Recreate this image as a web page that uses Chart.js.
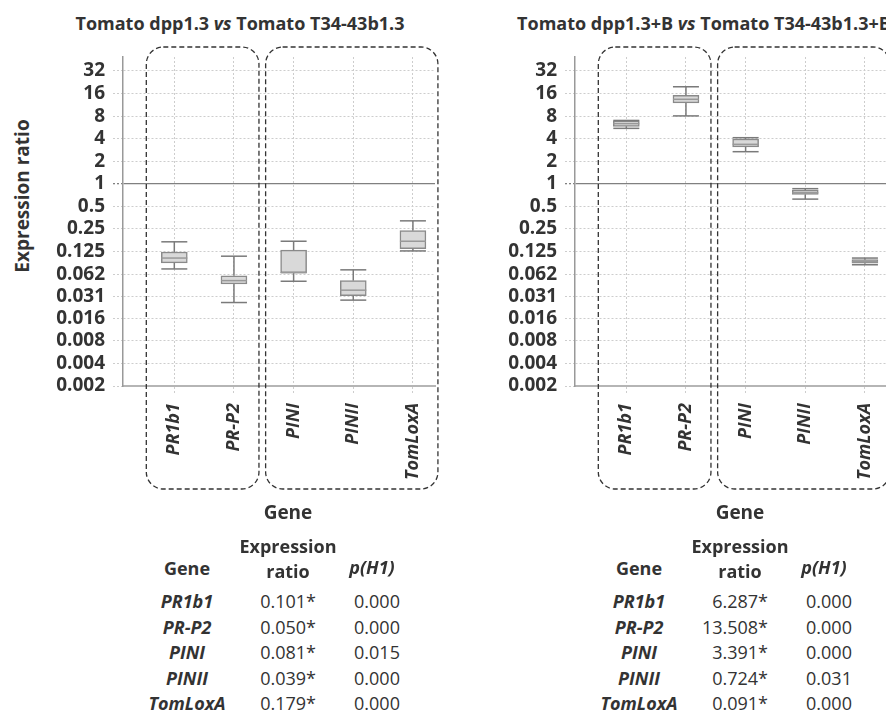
<!DOCTYPE html>
<html>
<head>
<meta charset="utf-8">
<script src="https://cdn.jsdelivr.net/npm/chart.js@4.4.0/dist/chart.umd.min.js"></script>
<style>
    body { margin: 0; width: 886px; height: 713px; overflow: hidden; background: #fff;
           font-family: 'Open Sans', sans-serif; color: #333; position: relative; }
    .panel { position: absolute; top: 0; width: 452px; height: 713px; }
    .panel canvas { position: absolute; left: 0; top: 0; }
    .title { position: absolute; top: 10px; width: 480px; left: 0; text-align: center;
             font-weight: bold; font-size: 18px; white-space: nowrap; line-height: 26px; }
    .ylabel { position: absolute; left: 22px; top: 196px; transform: translate(-50%, -50%) rotate(-90deg);
              font-weight: bold; font-size: 19px; white-space: nowrap; }
    .xlabel { position: absolute; top: 499px; left: 238px; width: 100px; text-align: center;
              font-weight: bold; font-size: 19px; line-height: 26px; }
    .cell { position: absolute; font-size: 18px; line-height: 24px; white-space: nowrap; }
    .hdr { font-weight: bold; }
    .gene { font-weight: bold; font-style: italic; }
</style>
</head>
<body>
<div class="panel" id="panel-dpp" style="left:0">
    <div class="title">Tomato dpp1.3 <i>vs</i> Tomato T34-43b1.3</div>
    <div class="ylabel">Expression ratio</div>
    <canvas id="chart-dpp" width="445" height="500"></canvas>
    <div class="xlabel">Gene</div>
</div>
<div class="panel" id="panel-dppB" style="left:452px">
    <div class="title" style="left:12px">Tomato dpp1.3+B <i>vs</i> Tomato T34-43b1.3+B</div>
    <canvas id="chart-dppB" width="445" height="500"></canvas>
    <div class="xlabel">Gene</div>
</div>
<script>
const genes = ['PR1b1', 'PR-P2', 'PINI', 'PINII', 'TomLoxA'];
const yTickLabels = [0.002, 0.004, 0.008, 0.016, 0.031, 0.062, 0.125, 0.25, 0.5, 1, 2, 4, 8, 16, 32];
const groups = [[0, 1], [2, 4]];

// dpp1.3 vs T34-43b1.3 : whisker min, q1, median, q3, whisker max
const dppMin = [0.073, 0.026, 0.050, 0.028, 0.127];
const dppQ1 = [0.088, 0.046, 0.065, 0.032, 0.136];
const dppMedian = [0.102, 0.051, 0.065, 0.038, 0.171];
const dppQ3 = [0.123, 0.059, 0.130, 0.051, 0.237];
const dppMax = [0.168, 0.108, 0.171, 0.071, 0.320];
const dppRatio = ['0.101*', '0.050*', '0.081*', '0.039*', '0.179*'];
const dppP = ['0.000', '0.000', '0.015', '0.000', '0.000'];

// dpp1.3+B vs T34-43b1.3+B
const dppBMin = [5.49, 8.05, 2.68, 0.624, 0.083];
const dppBQ1 = [5.84, 12.0, 3.10, 0.719, 0.087];
const dppBMedian = [6.35, 13.4, 3.36, 0.758, 0.091];
const dppBQ3 = [6.90, 15.2, 3.96, 0.823, 0.097];
const dppBMax = [7.0, 19.7, 4.12, 0.86, 0.102];
const dppBRatio = ['6.287*', '13.508*', '3.391*', '0.724*', '0.091*'];
const dppBP = ['0.000', '0.000', '0.000', '0.031', '0.000'];

const BOX_W = 26;

// whiskers, medians and the dashed group frames
const boxPlotPlugin = {
    id: 'boxPlot',
    afterDatasetsDraw(chart) {
        const { ctx, scales: { x, y } } = chart;
        const s = chart.data.datasets[0].stats;
        const py = v => y.getPixelForValue(Math.log2(v));
        const line = (x0, y0, x1, y1) => { ctx.beginPath(); ctx.moveTo(x0, y0); ctx.lineTo(x1, y1); ctx.stroke(); };
        ctx.save();
        genes.forEach((g, i) => {
            const px = x.getPixelForValue(i + 1);
            ctx.strokeStyle = '#7a7a7a';
            ctx.lineWidth = 1.5;
            line(px, py(s.q3[i]), px, py(s.max[i]));
            line(px - BOX_W / 2, py(s.max[i]), px + BOX_W / 2, py(s.max[i]));
            line(px, py(s.q1[i]), px, py(s.min[i]));
            line(px - BOX_W / 2, py(s.min[i]), px + BOX_W / 2, py(s.min[i]));
            ctx.strokeStyle = '#999';
            line(px - BOX_W / 2, py(s.median[i]), px + BOX_W / 2, py(s.median[i]));
        });
        ctx.restore();
    },
    afterDraw(chart) {
        const { ctx, chartArea, scales: { x } } = chart;
        ctx.save();
        ctx.strokeStyle = '#333';
        ctx.lineWidth = 1.3;
        ctx.setLineDash([5, 3]);
        groups.forEach(([a, b]) => {
            const x0 = x.getPixelForValue(a + 1) - 28;
            const x1 = x.getPixelForValue(b + 1) + 25;
            const top = chartArea.top - 10;
            const bottom = chartArea.bottom + 103;
            ctx.beginPath();
            ctx.roundRect(x0, top, x1 - x0, bottom - top, 17);
            ctx.stroke();
        });
        ctx.restore();
    }
};

function createBoxChart(canvas, stats) {
    const boxData = genes.map((g, i) => ({ x: i + 1, y: [Math.log2(stats.q1[i]), Math.log2(stats.q3[i])] }));
    const isOne = c => c.tick && Math.abs(c.tick.value) < 1e-9;
    return new Chart(canvas.getContext('2d'), {
        type: 'bar',
        data: {
            datasets: [{
                data: boxData,
                stats: stats,
                backgroundColor: '#d9d9d9',
                borderColor: '#8a8a8a',
                borderWidth: 1.5,
                borderSkipped: false,
                barThickness: BOX_W
            }]
        },
        options: {
            responsive: false,
            animation: false,
            layout: { padding: { top: 57, right: 10, left: 0, bottom: 14 } },
            plugins: { legend: { display: false }, tooltip: { enabled: false } },
            scales: {
                x: {
                    type: 'linear',
                    offset: false,
                    min: 0.14,
                    max: 5.37,
                    afterBuildTicks: s => { s.ticks = genes.map((g, i) => ({ value: i + 1 })); },
                    afterFit: s => { s.height = 100; s.paddingLeft = 0; s.paddingRight = 0; },
                    ticks: {
                        autoSkip: false,
                        minRotation: 90,
                        maxRotation: 90,
                        padding: 8,
                        color: '#333',
                        font: { family: 'Open Sans', size: 18, weight: 'bold', style: 'italic' },
                        callback: v => genes[v - 1]
                    },
                    grid: { offset: false, color: '#cdcdcd', tickLength: 9, tickBorderDash: [2, 2] },
                    border: { color: '#b5b5b5', width: 2, dash: [2, 2] }
                },
                y: {
                    type: 'linear',
                    min: Math.log2(0.002),
                    max: 5.62,
                    afterBuildTicks: s => { s.ticks = yTickLabels.map(v => ({ value: Math.log2(v) })); },
                    afterFit: s => { s.width = 123; s.paddingTop = 0; s.paddingBottom = 0; },
                    ticks: {
                        autoSkip: false,
                        padding: 8,
                        color: '#333',
                        font: { family: 'Open Sans', size: 19, weight: 'bold' },
                        callback: (v, i) => String(yTickLabels[i])
                    },
                    grid: {
                        color: c => isOne(c) ? '#808080' : '#cdcdcd',
                        lineWidth: c => isOne(c) ? 1.3 : 1,
                        tickLength: 10,
                        tickBorderDash: [2, 2]
                    },
                    border: { color: '#999', width: 1.5, dash: c => isOne(c) ? [] : [2, 2] }
                }
            }
        },
        plugins: [boxPlotPlugin]
    });
}

function createTable(panel, ratios, pValues) {
    const add = (text, cls, left, top, width, align) => {
        const d = document.createElement('div');
        d.className = 'cell ' + cls;
        d.innerHTML = text;
        d.style.left = left + 'px';
        d.style.top = (top - 12) + 'px';
        d.style.width = width + 'px';
        d.style.textAlign = align;
        panel.appendChild(d);
    };
    add('Gene', 'hdr', 137, 568, 100, 'center');
    add('Expression', 'hdr', 238, 546, 100, 'center');
    add('ratio', 'hdr', 238, 571, 100, 'center');
    add('<i>p(H1)</i>', 'hdr', 322, 567, 100, 'center');
    genes.forEach((g, i) => {
        const top = 601 + i * 25.6;
        add(g, 'gene', 127, top, 120, 'center');
        add(ratios[i], '', 216, top, 100, 'right');
        add(pValues[i], '', 327, top, 100, 'center');
    });
}

createBoxChart(document.getElementById('chart-dpp'),
    { min: dppMin, q1: dppQ1, median: dppMedian, q3: dppQ3, max: dppMax });
createBoxChart(document.getElementById('chart-dppB'),
    { min: dppBMin, q1: dppBQ1, median: dppBMedian, q3: dppBQ3, max: dppBMax });
createTable(document.getElementById('panel-dpp'), dppRatio, dppP);
createTable(document.getElementById('panel-dppB'), dppBRatio, dppBP);
</script>
</body>
</html>
